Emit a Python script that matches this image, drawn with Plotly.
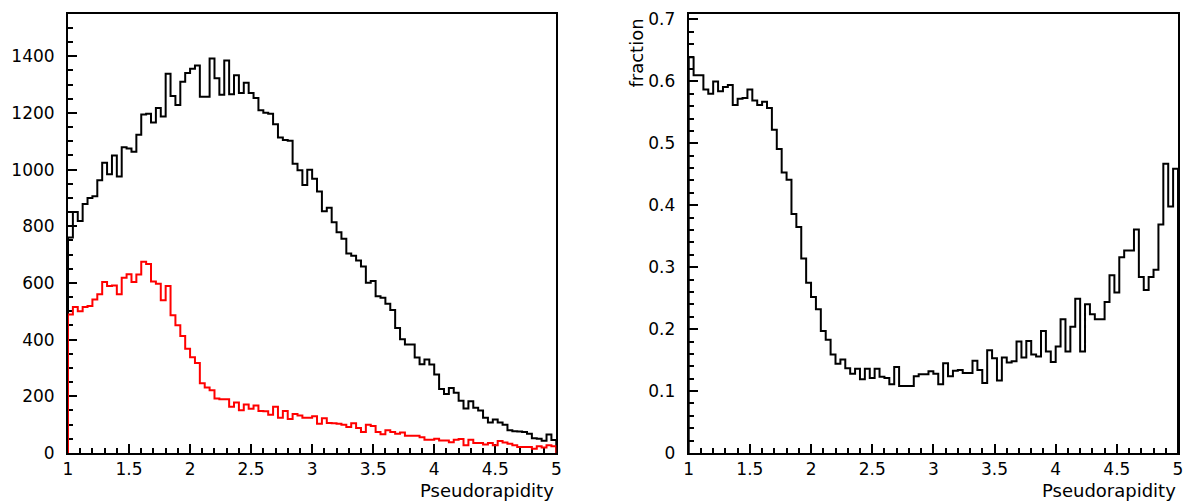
import numpy as np
import plotly.graph_objects as go

# ---------------- data (100 bins, pseudorapidity 1..5) ----------------
eta_min, eta_max, n_bins = 1.0, 5.0, 100

all_counts = [
    760, 850, 819, 879, 900, 906, 962, 1024, 984, 1050,
    976, 1079, 1074, 1063, 1123, 1194, 1197, 1166, 1217, 1187,
    1338, 1260, 1228, 1310, 1341, 1356, 1367, 1257, 1257, 1392,
    1322, 1264, 1385, 1266, 1333, 1270, 1306, 1270, 1253, 1209,
    1201, 1197, 1160, 1113, 1104, 1102, 1021, 998, 946, 999,
    968, 923, 853, 865, 814, 779, 756, 704, 696, 679,
    658, 601, 607, 553, 548, 527, 505, 441, 401, 383,
    383, 337, 313, 330, 312, 277, 226, 208, 229, 213,
    184, 157, 183, 160, 150, 124, 108, 118, 108, 100,
    80, 77, 76, 74, 68, 52, 50, 43, 65, 46,
]

selected_counts = [
    489, 515, 500, 515, 519, 542, 560, 603, 589, 591,
    560, 618, 631, 603, 630, 675, 667, 605, 597, 539,
    589, 486, 451, 413, 368, 338, 318, 246, 231, 221,
    192, 190, 190, 163, 178, 151, 171, 156, 168, 148,
    147, 135, 163, 124, 148, 120, 138, 132, 124, 124,
    130, 103, 123, 106, 105, 103, 100, 92, 105, 88,
    74, 100, 95, 74, 66, 80, 74, 68, 72, 61,
    61, 61, 56, 47, 47, 50, 44, 44, 38, 47,
    49, 27, 47, 35, 35, 30, 35, 27, 42, 37,
    33, 27, 21, 21, 21, 15, 24, 19, 27, 24,
]

fraction = [
    0.639, 0.610, 0.610, 0.587, 0.580, 0.600, 0.584, 0.591, 0.594, 0.562,
    0.572, 0.573, 0.587, 0.569, 0.562, 0.567, 0.557, 0.522, 0.491, 0.453,
    0.441, 0.386, 0.365, 0.314, 0.275, 0.252, 0.232, 0.197, 0.183, 0.159,
    0.144, 0.151, 0.137, 0.128, 0.136, 0.119, 0.136, 0.121, 0.136, 0.123,
    0.121, 0.111, 0.139, 0.108, 0.108, 0.108, 0.124, 0.127, 0.127, 0.132,
    0.128, 0.111, 0.145, 0.124, 0.133, 0.134, 0.129, 0.129, 0.149, 0.134,
    0.113, 0.166, 0.153, 0.117, 0.154, 0.146, 0.148, 0.180, 0.154, 0.181,
    0.159, 0.156, 0.197, 0.164, 0.147, 0.172, 0.216, 0.164, 0.204, 0.249,
    0.164, 0.240, 0.224, 0.216, 0.216, 0.244, 0.287, 0.259, 0.316, 0.327,
    0.327, 0.361, 0.284, 0.263, 0.284, 0.296, 0.369, 0.467, 0.398, 0.459,
]

x_ticks = [1, 1.5, 2, 2.5, 3, 3.5, 4, 4.5, 5]
x_ticktext = ["1", "1.5", "2", "2.5", "3", "3.5", "4", "4.5", "5"]
y1_ticks = [0, 200, 400, 600, 800, 1000, 1200, 1400]
y2_ticks = [0, 0.1, 0.2, 0.3, 0.4, 0.5, 0.6, 0.7]
y2_ticktext = ["0", "0.1", "0.2", "0.3", "0.4", "0.5", "0.6", "0.7"]

x_title = "Pseudorapidity"
y2_title = "fraction"


def step_xy(values):
    """Histogram outline: up from zero at the first edge, down to zero at the last."""
    edges = np.linspace(eta_min, eta_max, n_bins + 1)
    xs = [eta_min] + list(edges) + [eta_max]
    ys = [0] + list(values) + [values[-1], 0]
    return xs, ys


FONT = "DejaVu Sans"

fig = go.Figure()

for vals, color, xa, ya in [
    (all_counts, "black", "x", "y"),
    (selected_counts, "#ff0000", "x", "y"),
    (fraction, "black", "x2", "y2"),
]:
    xs, ys = step_xy(vals)
    fig.add_trace(go.Scatter(
        x=xs, y=ys, mode="lines", line=dict(color=color, width=2, shape="hv"),
        xaxis=xa, yaxis=ya, showlegend=False, hoverinfo="skip",
    ))

axis_common = dict(
    showgrid=False, zeroline=False, showline=True, linecolor="black", linewidth=2,
    mirror=True, ticks="inside", tickcolor="black", tickwidth=2,
    tickfont=dict(family=FONT, size=17, color="black"), layer="below traces",
)

fig.update_layout(
    width=1192, height=502,
    margin=dict(l=68, r=10, t=9, b=49),
    paper_bgcolor="white", plot_bgcolor="white",
    font=dict(family=FONT, color="black"),
    xaxis=dict(domain=[0, 0.4399], range=[eta_min, eta_max], tickvals=x_ticks,
               ticktext=x_ticktext, ticklen=9,
               minor=dict(dtick=0.1, tick0=1, ticklen=5, ticks="inside", tickcolor="black", tickwidth=2),
               anchor="y", **axis_common),
    yaxis=dict(domain=[0, 1], range=[0, 1549], tickvals=y1_ticks, ticklen=9,
               ticklabelstandoff=8,
               minor=dict(dtick=50, tick0=0, ticklen=5, ticks="inside", tickcolor="black", tickwidth=2),
               anchor="x", **axis_common),
    xaxis2=dict(domain=[0.5592, 1], range=[eta_min, eta_max], tickvals=x_ticks,
                ticktext=x_ticktext, ticklen=9,
                minor=dict(dtick=0.1, tick0=1, ticklen=5, ticks="inside", tickcolor="black", tickwidth=2),
                anchor="y2", **axis_common),
    yaxis2=dict(domain=[0, 1], range=[0, 0.7088], tickvals=y2_ticks, ticktext=y2_ticktext,
                ticklen=9, ticklabelstandoff=8,
                minor=dict(dtick=0.02, tick0=0, ticklen=5, ticks="inside", tickcolor="black", tickwidth=2),
                anchor="x2", **axis_common),
)

fig.add_annotation(text=x_title, xref="x domain", yref="paper", x=1, y=-0.058,
                   xanchor="right", yanchor="top", showarrow=False,
                   font=dict(family=FONT, size=18, color="black"))
fig.add_annotation(text=x_title, xref="x2 domain", yref="paper", x=1, y=-0.058,
                   xanchor="right", yanchor="top", showarrow=False,
                   font=dict(family=FONT, size=18, color="black"))
fig.add_annotation(text=y2_title, xref="paper", yref="paper", x=0.5125, y=0.995,
                   xanchor="center", yanchor="top", showarrow=False, textangle=-90,
                   font=dict(family=FONT, size=18, color="black"))

fig.write_html("out.html")
